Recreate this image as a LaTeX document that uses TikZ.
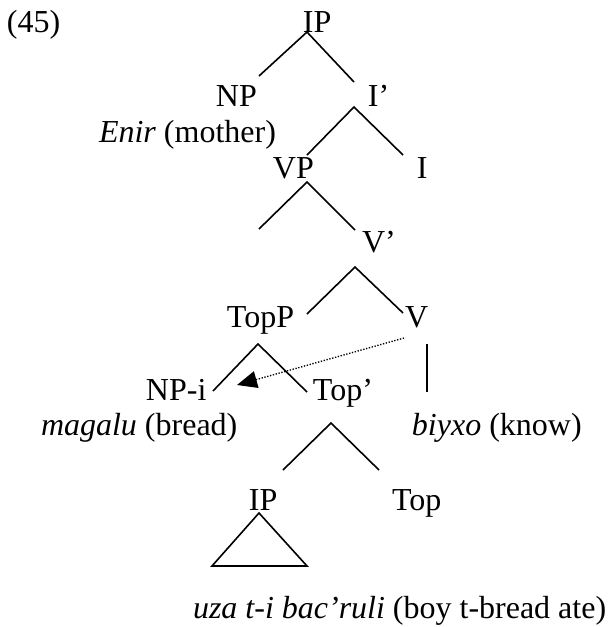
\documentclass[tikz,border=0pt]{standalone}
\usepackage{fontspec}
\setmainfont{Liberation Serif}
\usepackage{tikz}
\usetikzlibrary{arrows.meta}

\begin{document}
\begin{tikzpicture}[x=0.375pt,y=-0.375pt,
  every node/.style={font=\fontsize{12}{14}\selectfont,anchor=base west,inner sep=0pt,outer sep=0pt},
  branch/.style={line width=.6pt},
  move/.style={-{Triangle[length=7.5pt,width=6.4pt]},line width=.5pt,dash pattern=on .5pt off .6pt}]
\useasboundingbox (0,0) rectangle (608,627);
% labels
\node (exno) at (7,32) {(45)};
\node (ip) at (303,32) {IP};
\node (np) at (216,106) {NP};
\node (ibar) at (368,106) {I’};
\node (enir) at (99,142) {\textit{Enir} (mother)};
\node (vp) at (273,178) {VP};
\node (infl) at (417,178) {I};
\node (vbar) at (362,252) {V’};
\node (topp) at (227,327) {TopP};
\node (verb) at (405,327) {V};
\node (npi) at (146,400) {NP-i};
\node (topbar) at (313,400) {Top’};
\node (magalu) at (41,435) {\textit{magalu} (bread)};
\node (biyxo) at (412,435) {\textit{biyxo} (know)};
\node (ipl) at (249,510) {IP};
\node (top) at (392,510) {Top};
\node (uza) at (193,618) {\textit{uza t-i bac’ruli} (boy t-bread ate)};
% branch points
\coordinate (ip-a) at (307,32);  \coordinate (ip-l) at (259,76);  \coordinate (ip-r) at (354,82);
\coordinate (ib-a) at (354,107); \coordinate (ib-l) at (307,155); \coordinate (ib-r) at (403,155);
\coordinate (vp-a) at (307,182); \coordinate (vp-l) at (259,229); \coordinate (vp-r) at (355,230);
\coordinate (vb-a) at (355,267); \coordinate (vb-l) at (307,314); \coordinate (vb-r) at (403,313);
\coordinate (tp-a) at (258,344); \coordinate (tp-l) at (213,391); \coordinate (tp-r) at (307,392);
\coordinate (v-a) at (427,344);  \coordinate (v-b) at (427,392);
\coordinate (tb-a) at (331,423); \coordinate (tb-l) at (283,470); \coordinate (tb-r) at (379,470);
\coordinate (tri-a) at (259,513); \coordinate (tri-l) at (212,566); \coordinate (tri-r) at (307,566);
\coordinate (mv-s) at (404,338); \coordinate (mv-t) at (237,385);
% tree
\draw[branch] (ip-l) -- (ip-a) -- (ip-r);
\draw[branch] (ib-l) -- (ib-a) -- (ib-r);
\draw[branch] (vp-l) -- (vp-a) -- (vp-r);
\draw[branch] (vb-l) -- (vb-a) -- (vb-r);
\draw[branch] (tp-l) -- (tp-a) -- (tp-r);
\draw[branch] (v-a) -- (v-b);
\draw[branch] (tb-l) -- (tb-a) -- (tb-r);
\draw[branch] (tri-a) -- (tri-l) -- (tri-r) -- cycle;
\draw[move] (mv-s) -- (mv-t);
\end{tikzpicture}
\end{document}
